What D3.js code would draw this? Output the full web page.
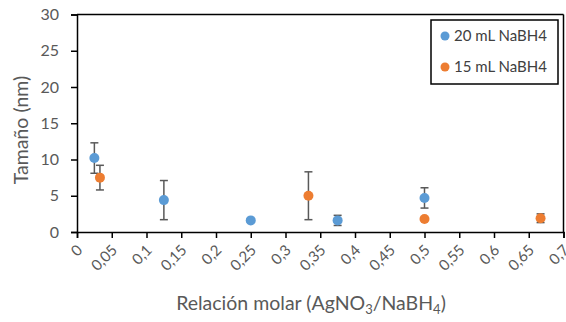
<!DOCTYPE html>
<html><head><meta charset="utf-8">
<script src="https://cdn.jsdelivr.net/npm/d3@7"></script>
<style>body{margin:0;background:#fff}svg{display:block}text{font-family:Lato,"Open Sans",sans-serif}</style>
</head><body>
<svg id="c" width="566" height="322"></svg>
<script>
const seriesNames = ["20 mL NaBH4", "15 mL NaBH4"];
const seriesColors = ["#5B9BD5", "#ED7D31"];
const blueX = [0.025, 0.125, 0.25, 0.375, 0.5];
const blueY = [10.2, 4.4, 1.6, 1.6, 4.7];
const blueErr = [2.1, 2.7, 0.2, 0.7, 1.4];
const orangeX = [0.033, 0.333, 0.5, 0.667];
const orangeY = [7.5, 5.0, 1.8, 1.9];
const orangeErr = [1.7, 3.3, 0.1, 0.6];
const xTicks = [0,0.05,0.1,0.15,0.2,0.25,0.3,0.35,0.4,0.45,0.5,0.55,0.6,0.65,0.7];
const yTicks = [0,5,10,15,20,25,30];

const svg = d3.select("#c");
const x = d3.scaleLinear().domain([0,0.7]).range([77,563.5]);
const y = d3.scaleLinear().domain([0,30]).range([232,14.5]);
const fmt = d => String(d).replace(".", ",");

// frame top & right
svg.append("line").attr("x1",x(0)).attr("x2",x(0.7)).attr("y1",y(30)).attr("y2",y(30)).attr("stroke","#000").attr("stroke-width",1.5);
svg.append("line").attr("x1",x(0.7)).attr("x2",x(0.7)).attr("y1",y(30)).attr("y2",y(0)).attr("stroke","#000").attr("stroke-width",1.5);

// y axis
const ya = svg.append("g").attr("transform",`translate(${x(0)},0)`)
  .call(d3.axisLeft(y).tickValues(yTicks).tickSize(6).tickPadding(12).tickFormat(d=>d));
ya.select(".domain").attr("stroke","#000").attr("stroke-width",1.5);
ya.selectAll(".tick line").attr("stroke","#000").attr("stroke-width",1.5);
ya.selectAll("text").attr("fill","#595959").style("font-size","16px");

// x axis
const xa = svg.append("g").attr("transform",`translate(0,${y(0)})`)
  .call(d3.axisBottom(x).tickValues(xTicks).tickSize(6).tickFormat(fmt));
xa.select(".domain").attr("stroke","#000").attr("stroke-width",1.5);
xa.selectAll(".tick line").attr("stroke","#000").attr("stroke-width",1.5);
xa.selectAll("text").attr("fill","#595959").style("font-size","15px")
  .attr("text-anchor","end").attr("dy",null).attr("y",null)
  .attr("transform","translate(6,19) rotate(-45)");

function drawSeries(xs, ys, es, color){
  const g = svg.append("g");
  const d = xs.map((v,i)=>({x:v,y:ys[i],e:es[i]}));
  const eb = g.selectAll(".eb").data(d).join("g").attr("stroke","#595959").attr("stroke-width",1.5);
  eb.append("line").attr("x1",p=>x(p.x)).attr("x2",p=>x(p.x)).attr("y1",p=>y(p.y-p.e)).attr("y2",p=>y(p.y+p.e));
  eb.append("line").attr("x1",p=>x(p.x)-4).attr("x2",p=>x(p.x)+4).attr("y1",p=>y(p.y-p.e)).attr("y2",p=>y(p.y-p.e));
  eb.append("line").attr("x1",p=>x(p.x)-4).attr("x2",p=>x(p.x)+4).attr("y1",p=>y(p.y+p.e)).attr("y2",p=>y(p.y+p.e));
  g.selectAll("circle").data(d).join("circle").attr("cx",p=>x(p.x)).attr("cy",p=>y(p.y)).attr("r",5).attr("fill",color);
}
drawSeries(blueX, blueY, blueErr, seriesColors[0]);
drawSeries(orangeX, orangeY, orangeErr, seriesColors[1]);

// legend
svg.append("rect").attr("x",431).attr("y",20).attr("width",127).attr("height",64).attr("fill","#fff").attr("stroke","#000").attr("stroke-width",1.5);
seriesNames.forEach((n,i)=>{
  const cy = 36 + i*31;
  svg.append("circle").attr("cx",445).attr("cy",cy).attr("r",4.5).attr("fill",seriesColors[i]);
  svg.append("text").attr("x",454).attr("y",cy+5).attr("fill","#404040").style("font-size","15px").text(n);
});

// axis titles
svg.append("text").attr("transform",`translate(28,130) rotate(-90)`).attr("text-anchor","middle")
  .attr("fill","#595959").style("font-size","19.5px").text("Tamaño (nm)");
const xt = svg.append("text").attr("x",311).attr("y",310).attr("text-anchor","middle").attr("fill","#595959").style("font-size","19.5px");
xt.append("tspan").text("Relación molar (AgNO");
xt.append("tspan").attr("dy",4).style("font-size","13px").text("3");
xt.append("tspan").attr("dy",-4).text("/NaBH");
xt.append("tspan").attr("dy",4).style("font-size","13px").text("4");
xt.append("tspan").attr("dy",-4).text(")");
</script>
</body></html>
